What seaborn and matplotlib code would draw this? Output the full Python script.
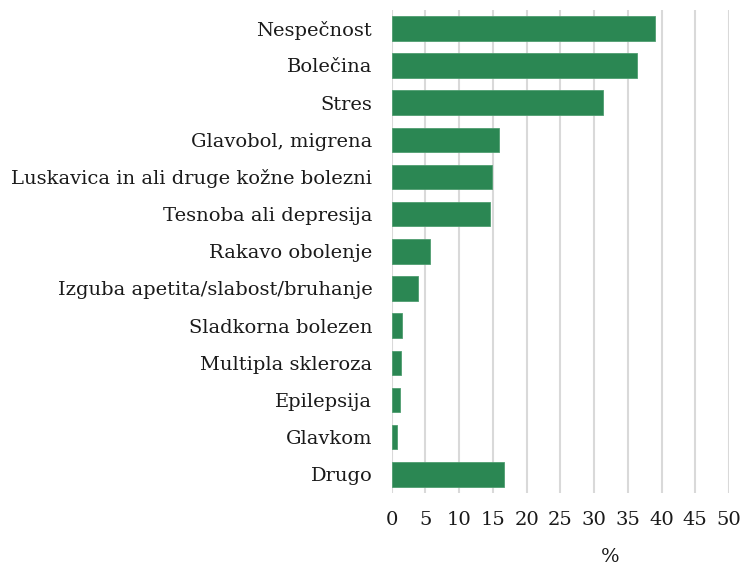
import matplotlib
matplotlib.use("Agg")
import matplotlib.pyplot as plt
import seaborn as sns
import pandas as pd

categories = [
    "Nespečnost",
    "Bolečina",
    "Stres",
    "Glavobol, migrena",
    "Luskavica in ali druge kožne bolezni",
    "Tesnoba ali depresija",
    "Rakavo obolenje",
    "Izguba apetita/slabost/bruhanje",
    "Sladkorna bolezen",
    "Multipla skleroza",
    "Epilepsija",
    "Glavkom",
    "Drugo",
]
values = [39.0, 36.4, 31.3, 15.9, 14.8, 14.6, 5.7, 3.85, 1.5, 1.4, 1.2, 0.8, 16.6]
x_ticks = [0, 5, 10, 15, 20, 25, 30, 35, 40, 45, 50]
x_label = "%"

df = pd.DataFrame({"cat": categories, "val": values})

sns.set_theme(style="white")
plt.rcParams["font.family"] = ["DejaVu Serif", "DejaVu Sans"]

fig = plt.figure(figsize=(7.42, 5.65), dpi=100)
ax = fig.add_axes([0.5279, 0.1276, 0.9825 - 0.5279, 0.9828 - 0.1276])

sns.barplot(data=df, x="val", y="cat", orient="h", color="#2b8753",
            saturation=1, width=0.66, edgecolor="#4f9e70", linewidth=0.6, ax=ax)

ax.set_xlim(0, 50)
ax.set_xticks(x_ticks)
ax.set_xticklabels([str(t) for t in x_ticks])
ax.grid(axis="x", color="#d9d9d9", linewidth=1.5)
ax.set_axisbelow(True)
for s in ax.spines.values():
    s.set_visible(False)
ax.tick_params(axis="both", length=0, labelsize=14, colors="#1a1a1a")
ax.tick_params(axis="x", pad=13)
ax.tick_params(axis="y", pad=14)
ax.set_ylabel("")
ax.set_xlabel(x_label, fontsize=14, color="#1a1a1a")
ax.xaxis.set_label_coords(0.647, -0.115)

fig.savefig("out.png", dpi=100)
